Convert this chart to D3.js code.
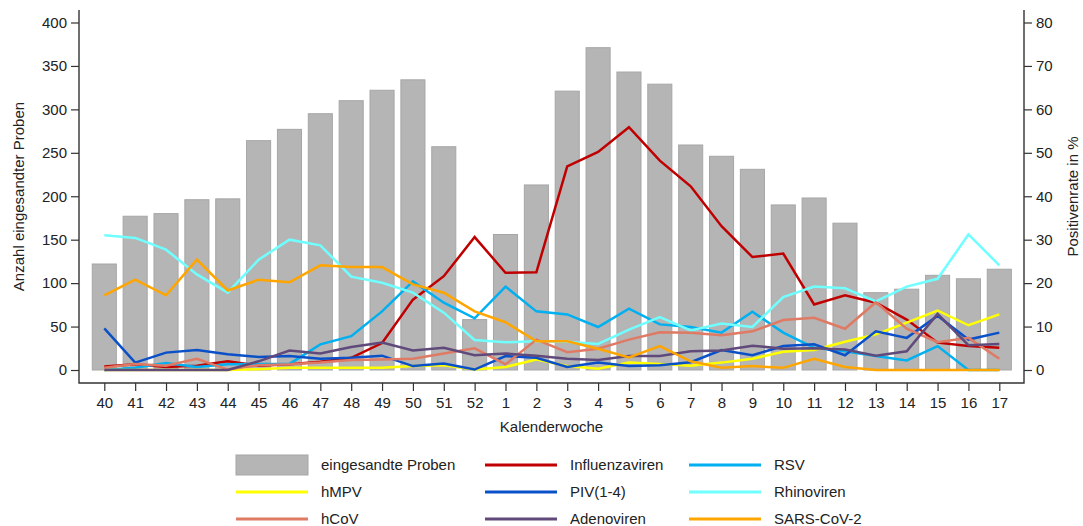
<!DOCTYPE html>
<html>
<head>
<meta charset="utf-8">
<script src="https://cdn.jsdelivr.net/npm/d3@7"></script>
<style>
  body { margin: 0; background: #fff; }
  text { font-family: "Liberation Sans", Arial, sans-serif; fill: #222; }
</style>
</head>
<body>
<div id="canvas"></div>
<script>
"use strict"

/* Data */
let weeks = ["40","41","42","43","44","45","46","47","48","49","50","51","52",
             "1","2","3","4","5","6","7","8","9","10","11","12","13","14","15","16","17"];

// eingesandte Proben (left axis)
let samples = [122,177,180,196,197,264,277,295,310,322,334,257,58,
               156,213,321,371,343,329,259,246,231,190,198,169,89,93,109,105,116];

// Positivenrate in % (right axis)
let influenza = [0.8,1.3,0.7,1.0,2.0,1.0,1.3,1.9,2.8,6.2,16.2,21.6,30.6,
                 22.4,22.5,46.9,50.2,55.9,48.2,42.3,33.1,26.0,26.8,15.1,17.2,15.5,11.6,6.3,5.5,5.1];
let rsv = [0,0.5,1.6,0.7,1.3,1.4,1.4,5.9,7.8,13.5,20.4,15.5,11.9,
           19.2,13.5,12.8,9.9,14.1,10.5,9.9,8.6,13.4,8.6,5.1,4.3,3.2,2.2,5.5,0,0];
let hmpv = [0,0,0,0,0,0.2,0.5,0.5,0.5,0.5,0.9,1.1,0.1,
            0.7,2.4,0.9,0.3,1.7,1.4,1.0,1.7,2.6,4.2,4.6,6.5,8.2,10.9,13.7,10.3,12.8];
let piv = [9.6,1.7,4.0,4.6,3.6,3.0,3.2,2.6,2.8,3.3,0.9,1.5,0.1,
           3.2,2.8,0.7,1.7,0.9,1.1,1.8,4.6,3.4,5.5,5.9,3.4,8.9,7.4,12.5,7.0,8.6];
let rhino = [31.0,30.4,27.7,22.0,17.8,25.4,30.0,28.7,21.5,20.1,17.8,13.2,6.9,
             6.4,6.6,6.5,6.0,9.3,12.2,9.1,10.7,9.9,16.8,19.2,18.8,15.8,19.2,21.0,31.2,24.1];
let hcov = [0.5,1.4,1.0,2.6,0.1,1.1,1.3,1.7,2.3,2.4,2.6,3.8,5.0,
            1.3,7.0,4.1,4.9,7.0,8.7,8.6,8.0,8.9,11.5,12.0,9.5,15.6,9.5,6.4,7.4,2.6];
let adeno = [0,0,0,0,0,2.0,4.5,3.8,5.3,6.3,4.5,5.1,3.4,
             3.8,3.3,2.6,2.3,3.2,3.2,4.3,4.5,5.6,4.9,5.0,4.7,3.3,4.3,12.9,5.7,6.0];
let sars = [17.2,20.8,17.2,25.4,18.3,20.8,20.2,24.1,23.7,23.7,19.7,17.8,13.5,
            11.0,6.6,6.6,4.9,2.9,5.5,2.0,0.5,0.9,0.5,2.6,0.7,0,0,0,0,0];

let leftTicks = [0,50,100,150,200,250,300,350,400];
let rightTicks = [0,10,20,30,40,50,60,70,80];

let series = [
  { name: "Influenzaviren", values: influenza, color: "#c00000" },
  { name: "RSV",            values: rsv,       color: "#00b0f0" },
  { name: "hMPV",           values: hmpv,      color: "#ffff00" },
  { name: "PIV(1-4)",       values: piv,       color: "#0a50c8" },
  { name: "Rhinoviren",     values: rhino,     color: "#70ffff" },
  { name: "hCoV",           values: hcov,      color: "#df7a64" },
  { name: "Adenoviren",     values: adeno,     color: "#604a7b" },
  { name: "SARS-CoV-2",     values: sars,      color: "#ffa500" }
];

/* Drawing config */
let svgWidth = 1083;
let svgHeight = 526;
let axisLeftX = 79;
let axisRightX = 1024;
let axisBottomY = 383;
let axisTopY = 10;

let svg = d3.select("#canvas")
    .append("svg")
    .attr("width", svgWidth)
    .attr("height", svgHeight);

/* Scales */
let xScale = d3.scalePoint()
    .domain(weeks)
    .range([104.3, 999.3]);

let barWidth = xScale.step() * 0.78;

let yLeft = d3.scaleLinear()
    .domain([0, 400])
    .range([370, 22.5]);

let yRight = d3.scaleLinear()
    .domain([0, 80])
    .range([370, 22.5]);

/* Bars */
svg.append("g")
    .selectAll("rect")
    .data(samples)
    .join("rect")
    .attr("x", (d, i) => xScale(weeks[i]) - barWidth / 2)
    .attr("y", d => yLeft(d))
    .attr("width", barWidth)
    .attr("height", d => yLeft(0) - yLeft(d))
    .attr("fill", "#b5b5b5")
    .attr("stroke", "#a6a6a6")
    .attr("stroke-width", 1);

/* Lines */
let line = d3.line()
    .x((d, i) => xScale(weeks[i]))
    .y(d => yRight(d));

svg.append("g")
    .selectAll("path")
    .data(series)
    .join("path")
    .attr("d", s => line(s.values))
    .attr("fill", "none")
    .attr("stroke", s => s.color)
    .attr("stroke-width", 2.5)
    .attr("stroke-linejoin", "miter");

/* Axes */
let axisColor = "#333";

let gLeft = svg.append("g")
    .attr("transform", "translate(" + axisLeftX + ",0)")
    .call(d3.axisLeft(yLeft).tickValues(leftTicks).tickSize(8).tickPadding(4).tickSizeOuter(0));

let gRight = svg.append("g")
    .attr("transform", "translate(" + axisRightX + ",0)")
    .call(d3.axisRight(yRight).tickValues(rightTicks).tickSize(8).tickPadding(4).tickSizeOuter(0));

let gBottom = svg.append("g")
    .attr("transform", "translate(0," + axisBottomY + ")")
    .call(d3.axisBottom(xScale).tickSize(8).tickPadding(6).tickSizeOuter(0));

[gLeft, gRight, gBottom].forEach(function (g) {
    g.select(".domain").remove();
    g.selectAll("line").attr("stroke", axisColor).attr("stroke-width", 1.2);
    g.selectAll("text")
        .style("font-family", "'Liberation Sans', Arial, sans-serif")
        .style("font-size", "15px")
        .attr("fill", "#222");
});

/* Axis frame: left, bottom, right (no top) */
svg.append("path")
    .attr("d", "M" + axisLeftX + "," + axisTopY +
               "V" + axisBottomY +
               "H" + axisRightX +
               "V" + axisTopY)
    .attr("fill", "none")
    .attr("stroke", axisColor)
    .attr("stroke-width", 1.4);

/* Axis titles */
svg.append("text")
    .attr("transform", "translate(24," + ((axisTopY + axisBottomY) / 2) + ") rotate(-90)")
    .attr("text-anchor", "middle")
    .style("font-size", "15px")
    .text("Anzahl eingesandter Proben");

svg.append("text")
    .attr("transform", "translate(1078," + ((axisTopY + axisBottomY) / 2) + ") rotate(-90)")
    .attr("text-anchor", "middle")
    .style("font-size", "15px")
    .text("Positivenrate in %");

svg.append("text")
    .attr("x", (axisLeftX + axisRightX) / 2)
    .attr("y", 432)
    .attr("text-anchor", "middle")
    .style("font-size", "15px")
    .text("Kalenderwoche");

/* Legend */
let legendItems = [{ name: "eingesandte Proben", bar: true }].concat(series);
let legendCols = [236, 485, 689];
let legendRows = [465, 492, 519];
let legendLen = 72;

legendItems.forEach(function (item, i) {
    let cx = legendCols[i % 3];
    let cy = legendRows[Math.floor(i / 3)];
    if (item.bar) {
        svg.append("rect")
            .attr("x", cx)
            .attr("y", cy - 10)
            .attr("width", legendLen)
            .attr("height", 20)
            .attr("fill", "#b5b5b5")
            .attr("stroke", "#a6a6a6");
    } else {
        svg.append("line")
            .attr("x1", cx)
            .attr("x2", cx + legendLen)
            .attr("y1", cy)
            .attr("y2", cy)
            .attr("stroke", item.color)
            .attr("stroke-width", 3);
    }
    svg.append("text")
        .attr("x", cx + 85)
        .attr("y", cy)
        .attr("dy", "0.35em")
        .style("font-size", "15px")
        .text(item.name);
});
</script>
</body>
</html>
